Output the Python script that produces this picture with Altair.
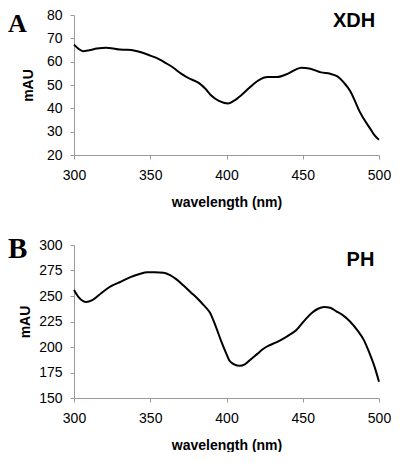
import altair as alt
import pandas as pd

# ---- data ----
x_ticks = [300, 350, 400, 450, 500]

xdh_nm = [300, 303, 306, 310, 315, 321, 326, 330, 335, 340, 345, 350, 356, 360, 365,
          370, 375, 382, 386, 390, 395, 401, 405, 410, 415, 421, 427, 433, 440, 445,
          449, 455, 462, 468, 473, 477, 481, 484, 487, 490, 494, 497, 500]
xdh_mau = [67.3, 65.5, 64.5, 64.9, 65.6, 66.0, 65.6, 65.2, 65.1, 64.7, 63.8, 62.6, 61.0,
           59.5, 57.5, 55.0, 53.0, 50.8, 48.5, 45.5, 43.2, 42.1, 43.3, 45.8, 48.8, 52.0,
           53.4, 53.4, 54.8, 56.5, 57.4, 57.0, 55.4, 54.8, 53.6, 51.0, 47.5, 43.5, 39.0,
           35.5, 31.5, 28.5, 26.5]
xdh_ticks = [20, 30, 40, 50, 60, 70, 80]

ph_nm = [300, 303, 306, 308, 312, 318, 324, 330, 337, 343, 348, 353, 358.7, 363, 367,
         372, 377, 380, 385, 389, 393, 396.7, 400, 402, 405, 408.7, 412, 416, 420, 424,
         428, 432.6, 437, 441, 446, 450, 453, 456.5, 460, 464, 468, 472, 476, 481, 486,
         490, 493.5, 497, 500]
ph_mau = [256, 249, 245, 244.2, 246, 253, 259.5, 263.5, 268.5, 271.5, 273.2, 273.3, 272.8,
          270.5, 266.5, 260, 253, 249, 241, 234, 220, 205, 193, 186.5, 183, 181.6, 183,
          188, 193, 198, 201.5, 204.5, 208, 211.6, 217, 224, 229, 234, 237.5, 239.3,
          238.5, 235, 231.5, 225, 216, 207, 195, 181, 166]
ph_ticks = [150, 175, 200, 225, 250, 275, 300]

FONT = "Liberation Sans"
SERIF = "Liberation Serif"
PW = 305


def panel(nm, vals, ydom, yticks, height, letter, letter_size, letter_base,
          label, label_x, label_base, title_pad):
    df = pd.DataFrame({"nm": nm, "mAU": vals})
    line = alt.Chart(df).mark_line(
        color="black", strokeWidth=2, interpolate="monotone"
    ).encode(
        x=alt.X("nm:Q",
                scale=alt.Scale(domain=[300, 500], nice=False, zero=False),
                axis=alt.Axis(values=x_ticks, title="wavelength (nm)", grid=False,
                              labelFlush=False, tickSize=4, labelPadding=9,
                              titlePadding=13)),
        y=alt.Y("mAU:Q",
                scale=alt.Scale(domain=ydom, nice=False, zero=False),
                axis=alt.Axis(values=yticks, title="mAU", grid=False,
                              labelFlush=False, tickSize=4, labelPadding=8,
                              titlePadding=title_pad)),
    )
    letter_t = alt.Chart(pd.DataFrame({"t": [letter]})).mark_text(
        font=SERIF, fontWeight="bold", fontSize=letter_size, align="left",
        baseline="alphabetic", color="black"
    ).encode(text="t:N", x=alt.value(-66), y=alt.value(letter_base))
    name_t = alt.Chart(pd.DataFrame({"t": [label]})).mark_text(
        font=FONT, fontWeight="bold", fontSize=20, align="center",
        baseline="alphabetic", color="black"
    ).encode(text="t:N", x=alt.value(label_x), y=alt.value(label_base))
    return alt.layer(line, letter_t, name_t).properties(width=PW, height=height)


top = panel(xdh_nm, xdh_mau, [20, 80], xdh_ticks, 140, "A", 26, 16.5, "XDH", 280, 12.3, 11)
bottom = panel(ph_nm, ph_mau, [150, 300], ph_ticks, 153, "B", 29, 13, "PH", 286.5, 20.7, 6)

chart = alt.vconcat(top, bottom, spacing=26).properties(
    padding={"left": 0, "top": 0, "right": 0, "bottom": 0}
).configure_view(stroke=None).configure_axis(
    domainColor="#9a9a9a", tickColor="#9a9a9a", domainWidth=1, tickWidth=1,
    labelFont=FONT, labelFontSize=14, labelColor="black",
    titleFont=FONT, titleFontSize=14, titleFontWeight="bold", titleColor="black",
)

chart.save("out.html", embed_options={"renderer": "svg", "actions": False})
